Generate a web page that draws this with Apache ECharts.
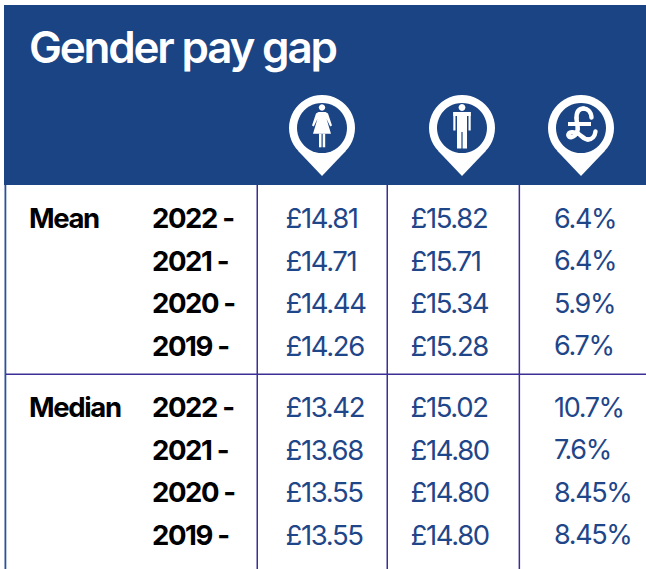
<!DOCTYPE html>
<html>
<head>
<meta charset="utf-8">
<style>
  html, body { margin: 0; padding: 0; background: #fff; }
  #chart { width: 646px; height: 569px; }
  #chart text { letter-spacing: -0.05em; }
</style>
<script src="https://cdn.jsdelivr.net/npm/echarts@6/dist/echarts.min.js"></script>
</head>
<body>
<div id="chart"></div>
<script>
var title = 'Gender pay gap';
var sections = ['Mean', 'Median'];
var years = ['2022', '2021', '2020', '2019'];

var womenMean = [14.81, 14.71, 14.44, 14.26];
var menMean = [15.82, 15.71, 15.34, 15.28];
var gapMean = [6.4, 6.4, 5.9, 6.7];

var womenMedian = [13.42, 13.68, 13.55, 13.55];
var menMedian = [15.02, 14.80, 14.80, 14.80];
var gapMedian = ['10.7', '7.6', '8.45', '8.45'];

var blue = '#1b4484';
var valueColor = '#1f4689';
var ruleColor = '#3a2f94';
var font = 'Inter';

function pounds(v) { return '£' + v.toFixed(2); }
function percent(v) { return v + '%'; }

// one column of text, drawn on the row axis of one grid
function column(grid, x, values, fmt, color, weight, size) {
  return {
    type: 'scatter',
    xAxisIndex: grid,
    yAxisIndex: grid,
    symbolSize: 0,
    silent: true,
    itemStyle: { opacity: 1 },
    data: values.map(function (v, i) { return { value: [x, i], raw: v }; }),
    label: {
      show: true,
      position: 'right',
      distance: 0,
      opacity: 1,
      color: color,
      fontFamily: font,
      fontSize: size,
      fontWeight: weight,
      formatter: function (p) { return fmt(p.data.raw); }
    }
  };
}

function yearLabel(v) { return v + ' -'; }
function plain(v) { return v; }

function block(grid, name, women, men, gap) {
  return [
    column(grid, 29, [name], plain, '#000', 700, 27.5),
    column(grid, 152, years, yearLabel, '#000', 700, 27.5),
    column(grid, 285.5, women, pounds, valueColor, 400, 27.5),
    column(grid, 410.5, men, pounds, valueColor, 400, 27.5),
    column(grid, 554, gap, percent, valueColor, 400, 27)
  ];
}

// map pin with the inner hole
function pin(cx) {
  return [
    { type: 'circle', shape: { cx: cx, cy: 128, r: 33 }, style: { fill: '#fff' } },
    { type: 'polygon', shape: { points: [[cx - 24, 150.7], [cx + 24, 150.7], [cx, 176]] }, style: { fill: '#fff' } },
    { type: 'circle', shape: { cx: cx, cy: 128, r: 25 }, style: { fill: blue } }
  ];
}

function rect(x, y, w, h, fill) {
  return { type: 'rect', shape: { x: x, y: y, width: w, height: h }, style: { fill: fill } };
}

function woman(cx) {
  var pts = [[-3.5, -16], [3.5, -16], [6, -14.5], [10, -2.5], [8.2, -1.5], [4.6, -9], [9, 5.7], [-9, 5.7], [-4.6, -9], [-8.2, -1.5], [-10, -2.5], [-6, -14.5]];
  return [
    { type: 'circle', shape: { cx: cx, cy: 107.5, r: 3.2 }, style: { fill: '#fff' } },
    { type: 'polygon', shape: { points: pts.map(function (p) { return [cx + p[0], 128 + p[1]]; }) }, style: { fill: '#fff' } },
    rect(cx - 3, 133.7, 2.5, 13.6, '#fff'),
    rect(cx + 0.7, 133.7, 2.5, 13.6, '#fff')
  ];
}

function man(cx) {
  return [
    { type: 'circle', shape: { cx: cx, cy: 107.5, r: 3.4 }, style: { fill: '#fff' } },
    rect(cx - 8.7, 112, 17.4, 4, '#fff'),
    rect(cx - 8.7, 112, 2.2, 18.5, '#fff'),
    rect(cx + 6.5, 112, 2.2, 18.5, '#fff'),
    rect(cx - 5, 112, 10, 20, '#fff'),
    rect(cx - 5, 132, 4.4, 16.5, '#fff'),
    rect(cx + 0.6, 132, 4.4, 16.5, '#fff')
  ];
}

function curve(a, b, c, d) {
  return {
    type: 'bezierCurve',
    shape: { x1: a[0], y1: a[1], cpx1: b[0], cpy1: b[1], cpx2: c[0], cpy2: c[1], x2: d[0], y2: d[1] },
    style: { stroke: '#fff', lineWidth: 4.4, fill: null, lineCap: 'round' }
  };
}

// curly pound sign of the third pin
function poundIcon() {
  return [
    curve([591.5, 117.5], [591, 111], [587, 108.5], [583.5, 108.5]),
    curve([583.5, 108.5], [578, 108.5], [576.5, 113], [576.5, 118]),
    curve([576.5, 118], [576.5, 124], [580, 130], [575.5, 134.5]),
    curve([575.5, 134.5], [573, 138], [568.5, 138], [568.5, 135]),
    curve([568.5, 135], [568.5, 131.5], [574, 131.5], [578, 133.5]),
    curve([578, 133.5], [582, 136], [584, 139.5], [588, 139.5]),
    curve([588, 139.5], [592, 139.5], [595, 136], [595.5, 131.5]),
    rect(568, 122, 23, 4, '#fff')
  ];
}

var graphics = [
  rect(4, 5, 642, 180, blue),
  rect(4.5, 185, 1.8, 384, '#2a5299'),
  rect(256.5, 185, 1.5, 384, ruleColor),
  rect(386.5, 185, 1.5, 384, ruleColor),
  rect(518.6, 185, 1.5, 384, ruleColor),
  rect(6, 373.5, 640, 1.5, ruleColor)
].concat(pin(322), woman(322), pin(462), man(462), pin(581), poundIcon());

var chart = echarts.init(document.getElementById('chart'), null, { renderer: 'svg' });
chart.setOption({
  animation: false,
  backgroundColor: '#fff',
  title: {
    text: title,
    left: 24,
    top: 20,
    textStyle: { color: '#fff', fontFamily: font, fontSize: 44, fontWeight: 600 }
  },
  grid: [
    { left: 0, width: 646, top: 197, height: 170 },
    { left: 0, width: 646, top: 386, height: 170 }
  ],
  xAxis: [0, 1].map(function (i) {
    return { type: 'value', gridIndex: i, min: 0, max: 646, show: false };
  }),
  yAxis: [0, 1].map(function (i) {
    return { type: 'category', gridIndex: i, data: years, inverse: true, show: false };
  }),
  graphic: { elements: graphics },
  series: block(0, sections[0], womenMean, menMean, gapMean)
    .concat(block(1, sections[1], womenMedian, menMedian, gapMedian))
});
</script>
</body>
</html>
